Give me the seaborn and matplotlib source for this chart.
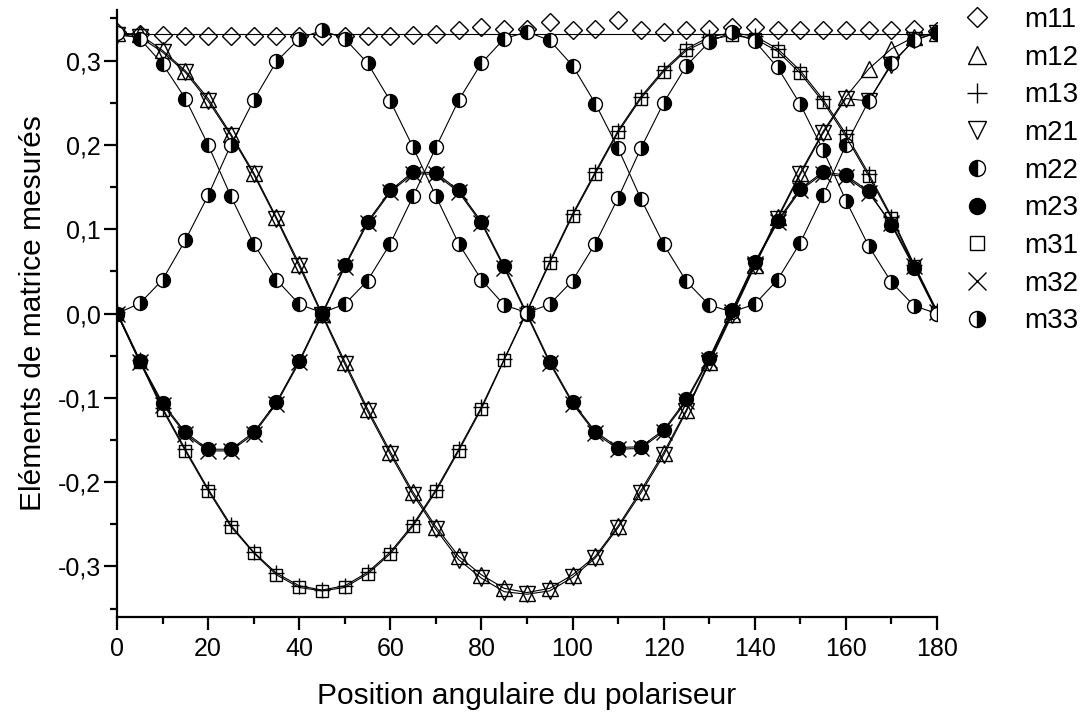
import matplotlib
matplotlib.use("Agg")
import matplotlib.pyplot as plt
from matplotlib.lines import Line2D
from matplotlib.ticker import MultipleLocator, FuncFormatter
import pandas as pd
import seaborn as sns

# polariser angle (degrees)
angles = list(range(0, 181, 5))

m11 = [0.334, 0.331, 0.330, 0.329, 0.329, 0.329, 0.329, 0.329, 0.329, 0.329,
       0.329, 0.329, 0.329, 0.330, 0.331, 0.336, 0.340, 0.338, 0.337, 0.346,
       0.336, 0.338, 0.348, 0.336, 0.334, 0.336, 0.338, 0.340, 0.340, 0.336,
       0.336, 0.336, 0.336, 0.336, 0.336, 0.337, 0.335]
m11_fit = 0.332
m12 = [0.333, 0.331, 0.312, 0.288, 0.255, 0.213, 0.167, 0.114, 0.059, 0.000,
       -0.057, -0.113, -0.164, -0.212, -0.253, -0.288, -0.310, -0.326, -0.331,
       -0.326, -0.310, -0.288, -0.252, -0.210, -0.165, -0.114, -0.057, 0.000,
       0.058, 0.114, 0.167, 0.216, 0.257, 0.290, 0.314, 0.328, 0.333]
m13 = [0.002, -0.055, -0.112, -0.161, -0.208, -0.251, -0.283, -0.308, -0.323,
       -0.328, -0.323, -0.307, -0.283, -0.250, -0.209, -0.161, -0.111, -0.054,
       0.003, 0.062, 0.118, 0.168, 0.217, 0.257, 0.289, 0.314, 0.328, 0.333,
       0.329, 0.314, 0.288, 0.254, 0.213, 0.166, 0.115, 0.058, 0.003]
m21 = [0.330, 0.328, 0.310, 0.286, 0.252, 0.211, 0.165, 0.112, 0.056, -0.002,
       -0.060, -0.116, -0.167, -0.215, -0.256, -0.292, -0.314, -0.330, -0.333,
       -0.329, -0.313, -0.290, -0.254, -0.213, -0.168, -0.116, -0.059, -0.002,
       0.056, 0.112, 0.165, 0.214, 0.255, 0.252, 0.295, 0.325, 0.333]
m22 = [0.333, 0.326, 0.296, 0.255, 0.200, 0.139, 0.083, 0.040, 0.011, 0.001,
       0.011, 0.039, 0.083, 0.139, 0.197, 0.253, 0.297, 0.326, 0.334, 0.324,
       0.294, 0.249, 0.196, 0.136, 0.082, 0.038, 0.010, 0.002, 0.011, 0.040,
       0.084, 0.140, 0.200, 0.252, 0.297, 0.324, 0.333]
m23 = [0.000, -0.056, -0.106, -0.141, -0.161, -0.161, -0.141, -0.105, -0.056,
       0.000, 0.057, 0.109, 0.146, 0.168, 0.167, 0.146, 0.109, 0.056, 0.000,
       -0.057, -0.105, -0.140, -0.159, -0.158, -0.138, -0.102, -0.053, 0.004,
       0.061, 0.110, 0.148, 0.168, 0.164, 0.145, 0.105, 0.054, 0.000]
m31 = [0.000, -0.057, -0.114, -0.163, -0.210, -0.253, -0.284, -0.310, -0.325,
       -0.329, -0.325, -0.309, -0.285, -0.252, -0.211, -0.163, -0.113, -0.055,
       0.002, 0.060, 0.116, 0.166, 0.215, 0.255, 0.287, 0.312, 0.325, 0.330,
       0.326, 0.311, 0.285, 0.251, 0.210, 0.163, 0.113, 0.056, 0.002]
m32 = [0.000, -0.058, -0.108, -0.143, -0.163, -0.163, -0.143, -0.107, -0.058,
       -0.002, 0.055, 0.107, 0.144, 0.166, 0.165, 0.144, 0.107, 0.054, -0.002,
       -0.059, -0.107, -0.142, -0.161, -0.160, -0.140, -0.104, -0.055, 0.002,
       0.059, 0.108, 0.146, 0.166, 0.162, 0.143, 0.107, 0.056, 0.002]
m33 = [0.000, 0.012, 0.040, 0.087, 0.140, 0.200, 0.253, 0.299, 0.326, 0.336,
       0.326, 0.297, 0.252, 0.197, 0.139, 0.083, 0.040, 0.010, 0.001, 0.011,
       0.039, 0.083, 0.137, 0.196, 0.250, 0.294, 0.322, 0.334, 0.323, 0.292,
       0.248, 0.194, 0.134, 0.080, 0.037, 0.009, 0.000]

labels = ["m11", "m12", "m13", "m21", "m22", "m23", "m31", "m32", "m33"]
values = [m11, m12, m13, m21, m22, m23, m31, m32, m33]

df = pd.DataFrame({"angle": angles * len(labels),
                   "value": sum(values, []),
                   "elem": [l for l in labels for _ in angles]})

# marker style per element
open_m = dict(markerfacecolor="none", markeredgecolor="black", markeredgewidth=1.0)
half = dict(marker="o", markersize=10, markerfacecolor="black",
            markerfacecoloralt="white", markeredgecolor="black", markeredgewidth=1.0)
styles = {
    "m11": dict(marker="D", markersize=8.8, **open_m),
    "m12": dict(marker="^", markersize=11, **open_m),
    "m13": dict(marker="+", markersize=12, markeredgecolor="black", markeredgewidth=1.0),
    "m21": dict(marker="v", markersize=11, **open_m),
    "m22": dict(fillstyle="left", **half),
    "m23": dict(marker="o", markersize=10, markerfacecolor="black",
                markeredgecolor="black", markeredgewidth=1.0),
    "m31": dict(marker="s", markersize=9, **open_m),
    "m32": dict(marker="x", markersize=11.5, markeredgecolor="black", markeredgewidth=1.0),
    "m33": dict(fillstyle="right", **half),
}

sns.set_theme(style="ticks")
plt.rcParams["font.family"] = ["Liberation Sans", "DejaVu Sans"]
plt.rcParams["text.color"] = "black"
plt.rcParams["axes.labelcolor"] = "black"

fig = plt.figure(figsize=(10.88, 7.14), dpi=100)
ax = fig.add_axes([117 / 1088, 1 - 617 / 714, 820 / 1088, 607 / 714])

# m11: fitted constant line, markers only
ax.axhline(m11_fit, color="black", lw=0.8, zorder=1)
for name in labels:
    sub = df[df["elem"] == name]
    if name == "m11":
        sns.lineplot(data=sub, x="angle", y="value", ax=ax, color="black",
                     linestyle="none", legend=False, zorder=3, **styles[name])
    else:
        sns.lineplot(data=sub, x="angle", y="value", ax=ax, color="black",
                     lw=0.8, legend=False, zorder=3, **styles[name])

ax.set_xlim(0, 180)
ax.set_ylim(-0.36, 0.36)
ax.xaxis.set_major_locator(MultipleLocator(20))
ax.xaxis.set_minor_locator(MultipleLocator(10))
ax.yaxis.set_major_locator(MultipleLocator(0.1))
ax.yaxis.set_minor_locator(MultipleLocator(0.05))
ax.yaxis.set_major_formatter(FuncFormatter(lambda v, p: f"{v:.1f}".replace(".", ",").replace("-0,0", "0,0")))
ax.xaxis.set_major_formatter(FuncFormatter(lambda v, p: f"{v:.0f}"))

for side in ["top", "right"]:
    ax.spines[side].set_visible(False)
for side in ["left", "bottom"]:
    ax.spines[side].set_linewidth(1.6)
    ax.spines[side].set_color("black")
ax.tick_params(which="major", direction="out", length=9.5, width=1.6, labelsize=18,
               colors="black", labelcolor="black")
ax.tick_params(axis="y", which="major", pad=2)
ax.tick_params(axis="x", which="major", pad=5)
ax.tick_params(which="minor", direction="out", length=5, width=1.6, colors="black")

ax.set_xlabel("Position angulaire du polariseur", fontsize=21.5, labelpad=15, color="black")
ax.set_ylabel("Eléments de matrice mesurés", fontsize=21.5, labelpad=8, color="black")

handles = [Line2D([], [], linestyle="none", color="black", **styles[n]) for n in labels]
leg = fig.legend(handles, labels, loc="upper left", bbox_to_anchor=(963 / 1088, 1 - 7 / 714),
                 frameon=False, fontsize=20, handlelength=1.0, handletextpad=1.2,
                 labelspacing=0.42, borderpad=0.0, borderaxespad=0.0, markerscale=1.15)
for t in leg.get_texts():
    t.set_color("black")

fig.savefig("out.png", dpi=100)
